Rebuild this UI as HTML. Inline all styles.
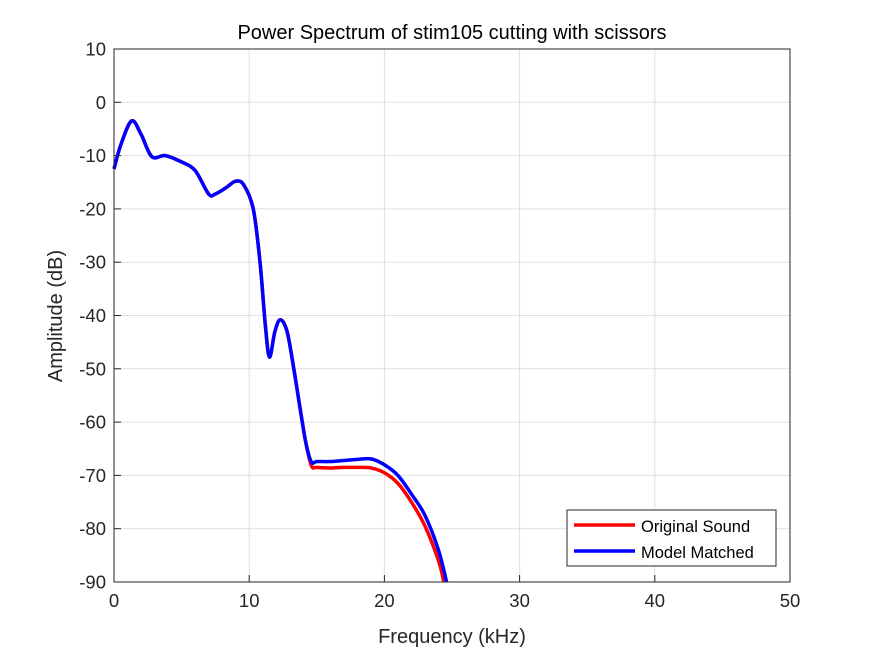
<!DOCTYPE html>
<html><head><meta charset="utf-8"><style>
body{margin:0;background:#fff;}
svg text{font-family:"Liberation Sans",Arial,sans-serif;}
</style></head><body>
<svg id="chart" width="875" height="656" xmlns="http://www.w3.org/2000/svg">
<rect width="875" height="656" fill="#fff"/>
<g id="grid"></g>
<g id="series"></g>
<rect x="114" y="49" width="676" height="533" fill="none" stroke="#262626" stroke-width="1"/>
<g id="ticks"></g>
<text x="452" y="39" font-size="20" text-anchor="middle" fill="#000">Power Spectrum of stim105 cutting with scissors</text>
<text x="452" y="643" font-size="20" text-anchor="middle" fill="#262626">Frequency (kHz)</text>
<text transform="translate(62,316) rotate(-90)" font-size="20" text-anchor="middle" fill="#262626">Amplitude (dB)</text>
<g>
<rect x="567" y="510" width="209" height="56" fill="#fff" stroke="#262626" stroke-width="1"/>
<line x1="574" y1="525" x2="635" y2="525" stroke="#ff0000" stroke-width="3.5"/>
<text x="641" y="532" font-size="16.5" fill="#000">Original Sound</text>
<line x1="574" y1="551" x2="635" y2="551" stroke="#0000ff" stroke-width="3.5"/>
<text x="641" y="558" font-size="16.5" fill="#000">Model Matched</text>
</g>
</svg>
<script>
const xTicks=[0,10,20,30,40,50];
const yTicks=[10,0,-10,-20,-30,-40,-50,-60,-70,-80,-90];
const sharedF=[0,0.5,1.3,2,2.8,3.8,5,6,7,7.5,8.3,9,9.6,10.3,10.8,11.2,11.5,11.9,12.3,12.8,13.3,13.8,14.2];
const sharedA=[-12.5,-8,-3.5,-6,-10.2,-10,-11.2,-12.8,-17.2,-17.2,-16,-14.8,-15.5,-20,-30,-42,-47.8,-43,-40.8,-43,-50,-58,-64];
const origF=[14.6,15,16,17,18,19,20,21,22,23,24,24.4];
const origA=[-68.2,-68.5,-68.6,-68.5,-68.5,-68.6,-69.5,-71.5,-75,-79.5,-86,-90];
const modelF=[14.6,15,16,17,18,19,20,21,22,23,24,24.6];
const modelA=[-67.5,-67.4,-67.4,-67.2,-67,-66.9,-68,-70,-73.5,-77.5,-84,-90];
const X=f=>114+f/50*676, Y=a=>49+(10-a)/100*533;
const NS='http://www.w3.org/2000/svg';
const grid=document.getElementById('grid'),ticks=document.getElementById('ticks'),series=document.getElementById('series');
function mk(t,at,p){const e=document.createElementNS(NS,t);for(const k in at)e.setAttribute(k,at[k]);p.appendChild(e);return e;}
xTicks.forEach(v=>{const x=X(v);
 const g=mk('line',{x1:x,x2:x,y1:49,y2:582,stroke:'#dfdfdf','stroke-width':1},grid);
 
 
 const t=mk('line',{x1:x,x2:x,y1:582,y2:575,stroke:'#262626'},ticks);
 
 
 const l=mk('text',{x:x,y:607,'font-size':18.5,'text-anchor':'middle',fill:'#262626'},ticks);l.textContent=v;
 
 });
yTicks.forEach(v=>{const y=Y(v);
 const g=mk('line',{x1:114,x2:790,y1:y,y2:y,stroke:'#dfdfdf','stroke-width':1},grid);
 
 
 const t=mk('line',{x1:114,x2:121,y1:y,y2:y,stroke:'#262626'},ticks);
 
 
 const l=mk('text',{x:106,y:y+6.5,'font-size':18.5,'text-anchor':'end',fill:'#262626'},ticks);l.textContent=v;
 
 });
function path(fs,as){const p=fs.map((f,i)=>[X(f),Y(as[i])]);let d='M'+p[0][0]+','+p[0][1];
 for(let i=0;i<p.length-1;i++){const p0=p[Math.max(0,i-1)],p1=p[i],p2=p[i+1],p3=p[Math.min(p.length-1,i+2)];
  const c1=[p1[0]+(p2[0]-p0[0])/6,p1[1]+(p2[1]-p0[1])/6],c2=[p2[0]-(p3[0]-p1[0])/6,p2[1]-(p3[1]-p1[1])/6];
  d+=' C'+c1+' '+c2+' '+p2;}return d;}
const o=mk('path',{d:path(sharedF.concat(origF),sharedA.concat(origA)),fill:'none',stroke:'#ff0000','stroke-width':3.5,'stroke-linejoin':'round'},series);


const m=mk('path',{d:path(sharedF.concat(modelF),sharedA.concat(modelA)),fill:'none',stroke:'#0000ff','stroke-width':3.5,'stroke-linejoin':'round'},series);


</script>
</body></html>
